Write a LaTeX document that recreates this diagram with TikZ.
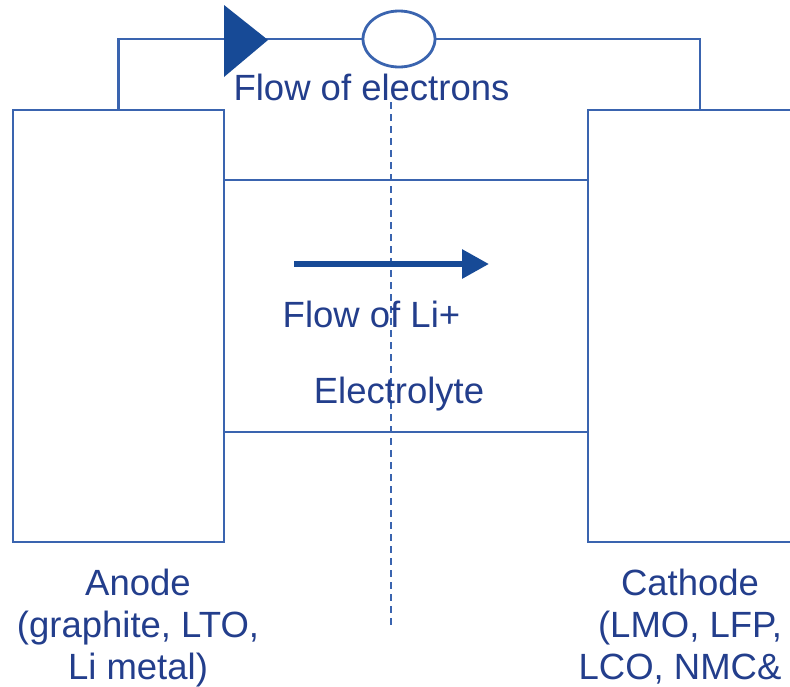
\documentclass[tikz,border=0pt]{standalone}
\usepackage{fontspec}
\setmainfont{Liberation Sans}
\usetikzlibrary{shapes.geometric,arrows.meta}
\definecolor{txtblue}{RGB}{35,62,140}
\definecolor{lineblue}{RGB}{58,100,175}
\definecolor{fillblue}{RGB}{23,74,150}
\tikzset{
  box/.style={draw=lineblue, line width=2.8pt, rectangle, inner sep=0pt},
  wire/.style={draw=lineblue, line width=2.8pt},
  lbl/.style={text=txtblue, font=\fontsize{36.5}{42}\selectfont, inner sep=0pt},
}
\begin{document}
\begin{tikzpicture}[x=1pt,y=-1pt]
\useasboundingbox (0,0) rectangle (790,686);
% electrodes and electrolyte
\node[box, minimum width=211pt, minimum height=432pt] (anode) at (118.5,326) {};
\node[box, minimum width=232pt, minimum height=432pt] (cathode) at (704,326) {};
\node[box, minimum width=364pt, minimum height=252pt] (electrolyte) at (406,306) {};
% external circuit
\node[wire, ellipse, fill=white, minimum width=72pt, minimum height=56pt, inner sep=0pt] (load) at (399,39) {};
\coordinate (ct) at (700,110);
\draw[wire] (anode.north) |- (load.west);
\draw[wire] (load.east) -| (ct);
\fill[fillblue] (224,5) -- (268,40) -- (224,77) -- cycle;
% separator line
\coordinate (dtop) at (391,102);
\coordinate (dbot) at (391,628);
\draw[lineblue, line width=2.2pt, dash pattern=on 7pt off 5pt] (dtop) -- (dbot);
% Li+ flow arrow
\coordinate (la) at (294,264);
\coordinate (lb) at (489,264);
\draw[fillblue, line width=6pt, -{Triangle[length=27pt,width=28pt]}] (la) -- (lb);
% labels
\node[lbl, anchor=base] (fe) at (371.5,100) {Flow of electrons};
\node[lbl, anchor=base] (fli) at (371.5,327) {Flow of Li+};
\node[lbl, anchor=base] (elt) at (399,403) {Electrolyte};
\node[lbl, anchor=north, align=center] (anodetxt) at (138,568.5) {Anode\\(graphite, LTO,\\Li metal)};
\node[lbl, anchor=north, align=center] (cathtxt) at (690,568.5) {Cathode\\(LMO, LFP,\\LCO, NMC\&\hspace*{20pt}};
\end{tikzpicture}
\end{document}
